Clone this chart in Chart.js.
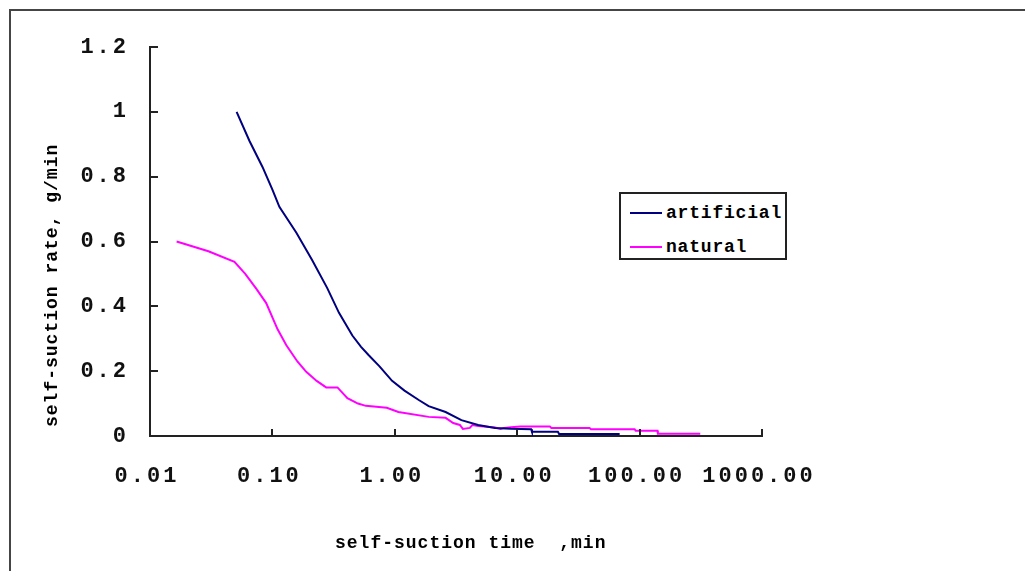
<!DOCTYPE html>
<html>
<head>
<meta charset="utf-8">
<script src="https://cdn.jsdelivr.net/npm/chart.js@4.4.1/dist/chart.umd.min.js"></script>
<style>
  html, body { margin: 0; padding: 0; background: #fff; overflow: hidden; }
  #wrap { position: relative; width: 1025px; height: 571px; overflow: hidden; }
  #frame { position: absolute; left: 9px; top: 9px; width: 1100px; height: 700px;
           border: 2.5px solid #454545; box-sizing: border-box; }
  canvas { position: absolute; left: 0; top: 0; }
  #legend { position: absolute; left: 619px; top: 192px; width: 168px; height: 68px;
            border: 2px solid #222; box-sizing: border-box; background: #fff;
            font-family: "Liberation Mono", monospace; font-weight: bold; font-size: 18px; letter-spacing: 0.8px; color: #000; }
  .item { position: absolute; left: 9px; height: 20px; display: flex; align-items: center; }
  .swatch { width: 32px; height: 0; border-top: 2px solid; margin-right: 4px; }
</style>
</head>
<body>
<div id="wrap">
  <div id="frame"></div>
  <canvas id="c" width="1025" height="571"></canvas>
  <div id="legend"></div>
</div>
<script>
// ---- data ----
const seriesNames = ["artificial", "natural"];
const seriesColors = ["#000080", "#FF00FF"];

const artificialTime = [0.051, 0.065, 0.083, 0.1, 0.114, 0.157, 0.211, 0.28, 0.35, 0.45, 0.53, 0.61, 0.75, 0.95, 1.2, 1.57, 1.89, 2.6, 3.5, 4.8, 6.6, 8.9, 13, 13.2, 21.5, 22, 68.7];
const artificialRate = [1.0, 0.91, 0.83, 0.76, 0.707, 0.627, 0.543, 0.457, 0.38, 0.31, 0.275, 0.25, 0.215, 0.17, 0.14, 0.111, 0.092, 0.074, 0.049, 0.034, 0.025, 0.022, 0.021, 0.013, 0.013, 0.006, 0.006];

const naturalTime = [0.0165, 0.03, 0.049, 0.06, 0.074, 0.089, 0.11, 0.13, 0.16, 0.189, 0.23, 0.275, 0.34, 0.41, 0.5, 0.58, 0.86, 1.07, 1.89, 2.6, 3.0, 3.4, 3.6, 4.1, 4.3, 4.8, 6.6, 7.3, 7.8, 8.9, 10.6, 18.5, 19, 39, 40, 91, 93, 140, 141, 313];
const naturalRate = [0.6, 0.57, 0.537, 0.5, 0.454, 0.41, 0.33, 0.28, 0.23, 0.198, 0.17, 0.15, 0.15, 0.117, 0.1, 0.093, 0.087, 0.074, 0.059, 0.056, 0.04, 0.034, 0.022, 0.025, 0.034, 0.031, 0.026, 0.022, 0.025, 0.027, 0.029, 0.029, 0.025, 0.025, 0.021, 0.021, 0.016, 0.016, 0.007, 0.007];

const xTickValues = [0.01, 0.1, 1, 10, 100, 1000];
const yTickValues = [0, 0.2, 0.4, 0.6, 0.8, 1, 1.2];
const xTitle = "self-suction time  ,min";
const yTitle = "self-suction rate, g/min";

// ---- build ----
function pts(xs, ys) { return xs.map((x, i) => ({ x: x, y: ys[i] })); }

const tickFont = { family: "Liberation Mono", size: 22, weight: 'bold' };
const titleFont = "bold 18px 'Liberation Mono'";

const insideTicks = {
  id: 'insideTicks',
  beforeDraw(chart) { chart.ctx.letterSpacing = '3px'; },
  afterDatasetsDraw(chart) {
    const ctx = chart.ctx, xs = chart.scales.x, ys = chart.scales.y;
    ctx.save();
    ctx.strokeStyle = '#222';
    ctx.lineWidth = 2;
    ctx.beginPath();
    xs.ticks.forEach((t, i) => {
      const px = Math.round(xs.getPixelForTick(i));
      ctx.moveTo(px, ys.bottom); ctx.lineTo(px, ys.bottom - 7);
    });
    ys.ticks.forEach((t, i) => {
      const py = Math.round(ys.getPixelForTick(i));
      ctx.moveTo(xs.left - 1, py); ctx.lineTo(xs.left + 8, py);
    });
    ctx.stroke();
    ctx.restore();
  },
  afterDraw(chart) {
    const ctx = chart.ctx, a = chart.chartArea;
    ctx.save();
    ctx.letterSpacing = '1px';
    ctx.font = titleFont;
    ctx.fillStyle = '#000';
    ctx.textAlign = 'left';
    ctx.textBaseline = 'alphabetic';
    ctx.fillText(xTitle, a.left + 185, a.bottom + 112);
    ctx.translate(a.left - 93, a.bottom - 9);
    ctx.rotate(-Math.PI / 2);
    ctx.fillText(yTitle, 0, 0);
    ctx.restore();
  }
};

const chart = new Chart(document.getElementById('c'), {
  type: 'line',
  data: {
    datasets: [
      { label: seriesNames[0], data: pts(artificialTime, artificialRate), borderColor: seriesColors[0],
        backgroundColor: seriesColors[0], borderWidth: 2, pointRadius: 0, tension: 0, fill: false },
      { label: seriesNames[1], data: pts(naturalTime, naturalRate), borderColor: seriesColors[1],
        backgroundColor: seriesColors[1], borderWidth: 2, pointRadius: 0, tension: 0, fill: false }
    ]
  },
  options: {
    responsive: false,
    animation: false,
    devicePixelRatio: 1,
    layout: { padding: { top: 47, right: 263, bottom: 0, left: 0 } },
    plugins: { legend: { display: false }, tooltip: { enabled: false } },
    scales: {
      x: {
        type: 'logarithmic', min: 0.01, max: 1000,
        afterBuildTicks: s => { s.ticks = xTickValues.map(v => ({ value: v })); },
        afterFit: s => { s.height = 135; },
        grid: { display: true, drawOnChartArea: false, drawTicks: false },
        border: { display: true, color: '#222', width: 2 },
        ticks: { autoSkip: false, maxRotation: 0, padding: 27, labelOffset: -3, color: '#111', font: tickFont,
                 callback: v => Number(v).toFixed(2) }
      },
      y: {
        type: 'linear', min: 0, max: 1.2,
        afterBuildTicks: s => { s.ticks = yTickValues.map(v => ({ value: v })); },
        afterFit: s => { s.width = 150; },
        grid: { display: true, drawOnChartArea: false, drawTicks: false },
        border: { display: true, color: '#222', width: 2 },
        ticks: { padding: 21, color: '#111', font: tickFont,
                 callback: v => String(Number(Number(v).toFixed(1))) }
      }
    }
  },
  plugins: [insideTicks]
});

// HTML legend built from the chart datasets
const lg = document.getElementById('legend');
chart.data.datasets.forEach((ds, i) => {
  const row = document.createElement('div');
  row.className = 'item';
  row.style.top = (i === 0 ? 9 : 43) + 'px';
  const sw = document.createElement('span');
  sw.className = 'swatch';
  sw.style.borderTopColor = ds.borderColor;
  const tx = document.createElement('span');
  tx.textContent = ds.label;
  row.appendChild(sw); row.appendChild(tx);
  lg.appendChild(row);
});
</script>
</body>
</html>
